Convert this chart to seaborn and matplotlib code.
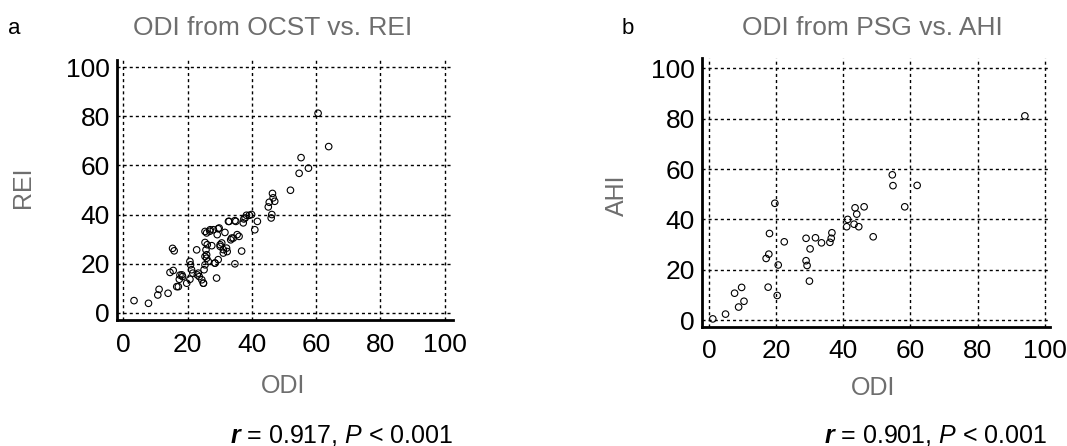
import matplotlib
matplotlib.use("Agg")
import matplotlib.pyplot as plt
import seaborn as sns
import pandas as pd
from matplotlib.ticker import MultipleLocator

sns.set_style("white")
plt.rcParams['font.family'] = ['Liberation Sans', 'DejaVu Sans']
plt.rcParams['mathtext.fontset'] = 'custom'
plt.rcParams['mathtext.it'] = 'Liberation Sans:italic'
plt.rcParams['mathtext.bf'] = 'Liberation Sans:bold:italic'
plt.rcParams['mathtext.rm'] = 'Liberation Sans'

# Panel a: ODI from OCST vs. REI
odi_a = [3.3, 7.8, 10.7, 11.1, 13.9, 14.5, 15.5, 15.3, 15.8, 16.6, 17.6, 17.4, 18.4, 19.7,
         20.7, 20.7, 20.9, 21.2, 21.6, 22.8, 23.0, 23.6, 24.4, 24.9, 25.1, 25.4, 25.4, 25.7,
         25.4, 25.9, 26.1, 25.9, 26.9, 27.5, 28.0, 28.5, 29.0, 29.2, 29.8, 29.5, 30.1, 30.6,
         31.1, 31.6, 32.1, 32.3, 32.9, 33.4, 34.2, 34.7, 35.0, 35.4, 36.0, 36.8, 37.3, 37.5,
         38.3, 39.2, 39.9, 40.9, 41.7, 45.1, 45.4, 46.0, 46.2, 46.4, 46.6, 47.1, 52.0, 54.7,
         55.3, 57.6, 60.6, 63.9, 25.4, 27.0, 29.5, 32.7, 34.7, 37.9, 25.9, 30.1, 31.1, 33.7,
         26.4, 28.5, 23.3, 18.2, 17.1, 24.9]
rei_a = [4.9, 3.8, 7.2, 9.5, 7.9, 16.4, 17.2, 26.2, 25.2, 10.6, 15.3, 13.6, 14.7, 12.0,
         13.6, 20.9, 19.5, 17.5, 16.1, 25.6, 15.4, 14.7, 13.4, 12.0, 17.5, 19.5, 22.9, 25.6,
         28.6, 22.2, 27.7, 32.5, 33.2, 27.3, 33.8, 20.2, 14.1, 31.8, 34.5, 21.6, 27.0, 28.4,
         24.3, 32.7, 26.3, 24.9, 37.2, 29.7, 30.4, 19.9, 37.2, 31.8, 31.1, 25.1, 36.6, 38.2,
         39.7, 39.7, 40.0, 33.8, 37.2, 43.1, 45.0, 38.6, 40.0, 48.6, 46.8, 45.4, 49.9, 56.8,
         63.2, 58.9, 81.3, 67.7, 33.1, 33.8, 34.2, 37.2, 37.5, 38.6, 23.6, 27.7, 25.7, 30.4,
         20.9, 20.2, 16.1, 15.4, 10.6, 12.0]

# Panel b: ODI from PSG vs. AHI
odi_b = [1.1, 4.9, 7.6, 9.7, 8.8, 10.4, 17.0, 17.8, 18.0, 17.6, 19.6, 20.6, 20.3, 22.4,
         28.9, 28.9, 29.2, 29.9, 30.1, 31.7, 33.5, 36.0, 36.4, 36.6, 41.0, 41.3, 43.2, 43.5,
         44.0, 44.6, 46.2, 48.9, 54.6, 54.8, 58.3, 62.0, 94.1]
ahi_b = [0.5, 2.4, 10.7, 13.0, 5.2, 7.5, 24.5, 26.2, 34.4, 13.1, 46.4, 21.9, 9.8, 31.1,
         32.5, 23.6, 21.7, 15.5, 28.3, 32.7, 30.7, 30.9, 32.5, 34.7, 37.1, 40.0, 38.1, 44.6,
         42.1, 37.1, 45.0, 33.1, 57.7, 53.4, 45.0, 53.5, 81.1]

ticks = [0, 20, 40, 60, 80, 100]
df_a = pd.DataFrame({"ODI": odi_a, "REI": rei_a})
df_b = pd.DataFrame({"ODI": odi_b, "AHI": ahi_b})

W, H = 1067, 446
fig = plt.figure(figsize=(10.67, 4.46), dpi=100)
ax_a = fig.add_axes([117 / W, 1 - 320 / H, 336 / W, 260 / H])
ax_b = fig.add_axes([701.7 / W, 1 - 326.7 / H, 348 / W, 268.5 / H])

def style(ax, xlim, ylim):
    ax.set_xlim(*xlim)
    ax.set_ylim(*ylim)
    ax.set_xticks(ticks)
    ax.set_yticks(ticks)
    ax.xaxis.set_minor_locator(MultipleLocator(10))
    ax.yaxis.set_minor_locator(MultipleLocator(10))
    ax.tick_params(which='major', direction='in', length=5, width=1.5, labelsize=19,
                   labelcolor='black', color='black')
    ax.tick_params(which='minor', direction='in', length=3, width=1.2, color='black')
    ax.tick_params(axis='x', which='major', pad=9)
    ax.tick_params(axis='y', which='major', pad=5)
    for s in ['top', 'right']:
        ax.spines[s].set_visible(False)
    for s in ['left', 'bottom']:
        ax.spines[s].set_color('black')
        ax.spines[s].set_linewidth(2)
    ax.grid(True, which='major', color='black', linestyle=(0, (2.2, 2.2)), linewidth=1.0)
    ax.set_axisbelow(True)
    ax.set_xlabel("")
    ax.set_ylabel("")

sns.scatterplot(data=df_a, x="ODI", y="REI", ax=ax_a, marker='o', s=22,
                facecolor='none', edgecolor='black', linewidth=0.8)
style(ax_a, (-2, 102.6), (-3, 103))

sns.scatterplot(data=df_b, x="ODI", y="AHI", ax=ax_b, marker='o', s=22,
                facecolor='none', edgecolor='black', linewidth=0.8)
style(ax_b, (-2.2, 101.5), (-2.6, 104))

gray = '#6e6e6e'
# titles
fig.text(273 / W, 1 - 28 / H, "ODI from OCST vs. REI", fontsize=19, color=gray,
         ha='center', va='center')
fig.text(872 / W, 1 - 28 / H, "ODI from PSG vs. AHI", fontsize=19, color=gray,
         ha='center', va='center')
# panel letters
fig.text(8 / W, 1 - 28 / H, "a", fontsize=16, color='black', ha='left', va='center')
fig.text(622 / W, 1 - 28 / H, "b", fontsize=16, color='black', ha='left', va='center')
# axis labels
fig.text(283 / W, 1 - 386 / H, "ODI", fontsize=18, color=gray, ha='center', va='center')
fig.text(873 / W, 1 - 388 / H, "ODI", fontsize=18, color=gray, ha='center', va='center')
fig.text(23 / W, 1 - 187 / H, "REI", fontsize=18, color=gray, ha='center', va='center',
         rotation=90)
fig.text(617 / W, 1 - 195 / H, "AHI", fontsize=18, color=gray, ha='center', va='center',
         rotation=90)
# correlation notes
fig.text(342 / W, 1 - 435 / H, r"$\mathbf{r}$ = 0.917, $P$ < 0.001", fontsize=18,
         ha='center', va='center', color='black')
fig.text(936 / W, 1 - 435 / H, r"$\mathbf{r}$ = 0.901, $P$ < 0.001", fontsize=18,
         ha='center', va='center', color='black')

fig.savefig("out.png", dpi=100)
